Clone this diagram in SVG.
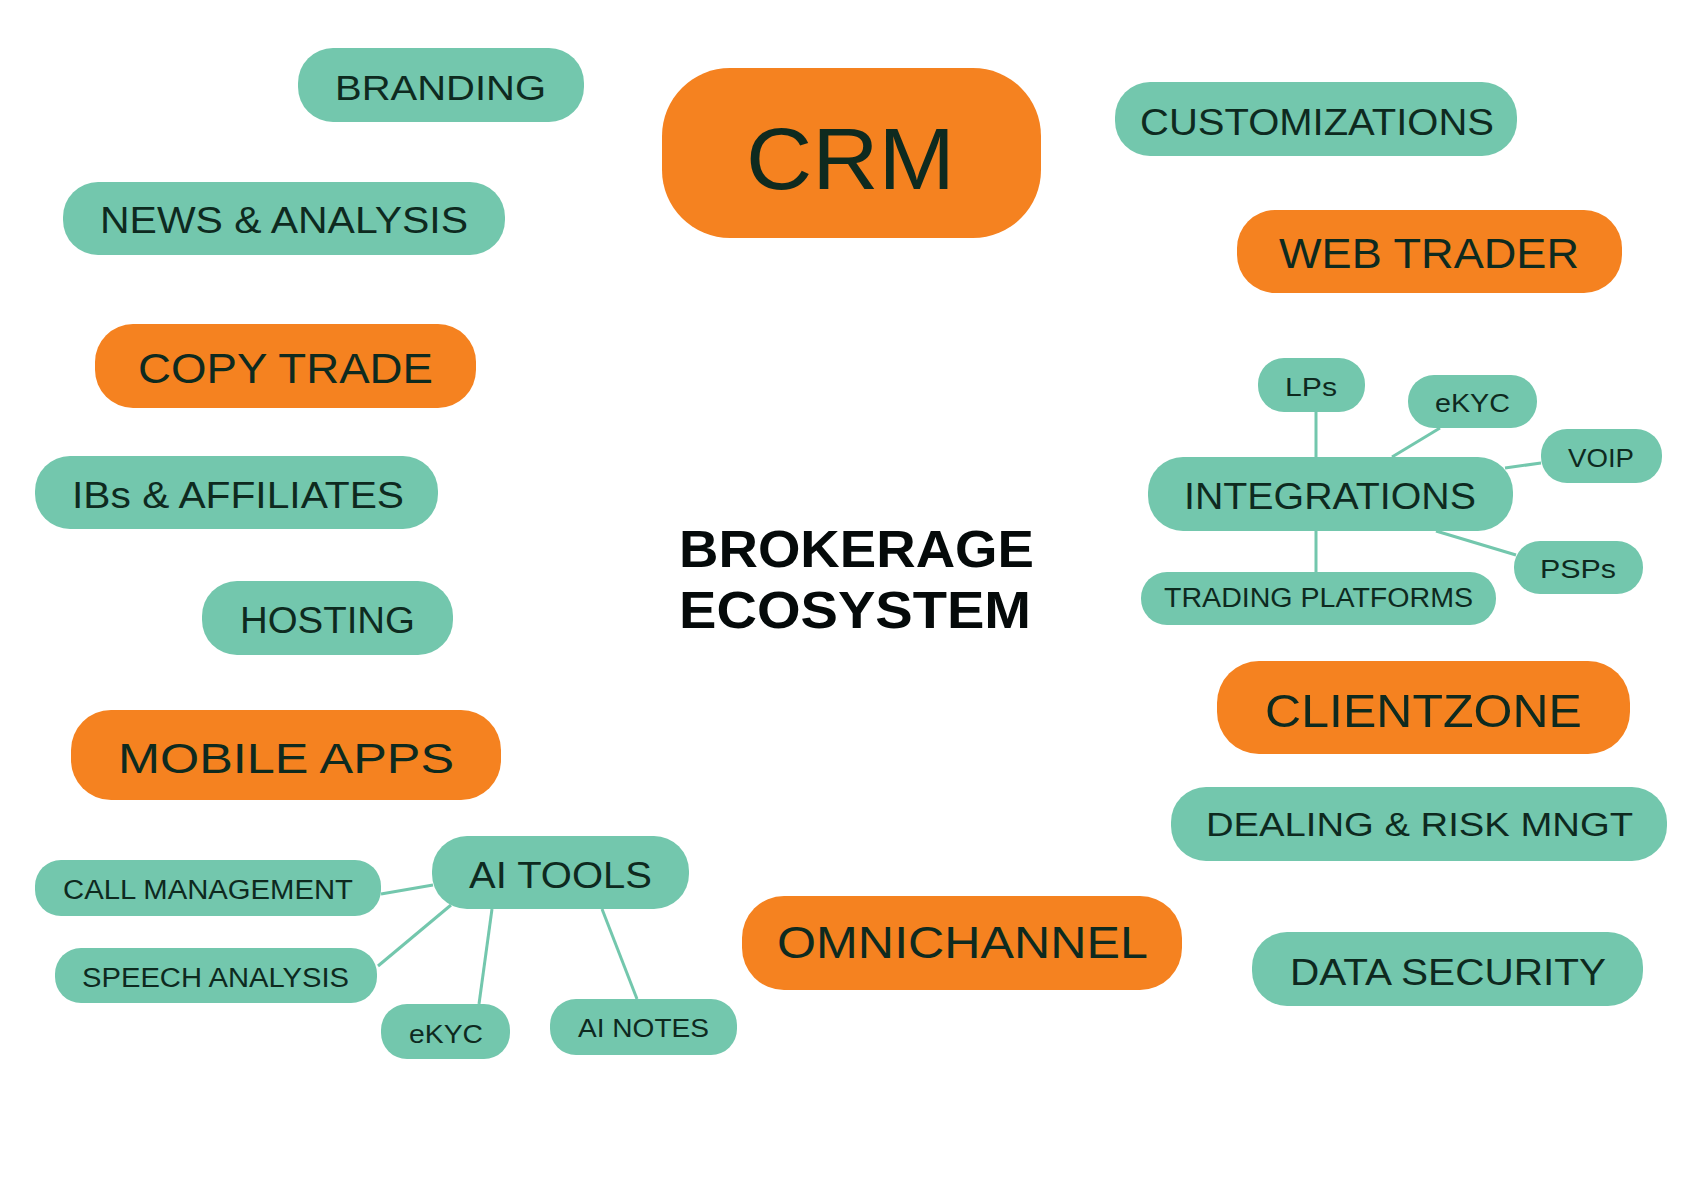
<svg xmlns="http://www.w3.org/2000/svg" width="1682" height="1180" viewBox="0 0 1682 1180">
<style>
.t{fill:#73C7AD}
.o{fill:#F58220}
text{font-family:"Liberation Sans",Arial,sans-serif;fill:#0E2A1F}
.c{stroke:#73C7AD;stroke-width:3;fill:none}
.h{font-weight:bold;fill:#050A0A}
</style>
<rect width="1682" height="1180" fill="#ffffff"/>
<g id="connectors">
<line class="c" x1="1316" y1="412" x2="1316" y2="457"/>
<line class="c" x1="1440" y1="428" x2="1392" y2="457"/>
<line class="c" x1="1541" y1="463" x2="1505" y2="468"/>
<line class="c" x1="1516" y1="555" x2="1436" y2="531"/>
<line class="c" x1="1316" y1="531" x2="1316" y2="572"/>
<line class="c" x1="381" y1="894" x2="433" y2="885"/>
<line class="c" x1="378" y1="966" x2="451" y2="905"/>
<line class="c" x1="479" y1="1004" x2="492" y2="909"/>
<line class="c" x1="637" y1="999" x2="602" y2="909"/>
</g>
<g id="center"><text class="h" x="679" y="567" font-size="52" textLength="355" lengthAdjust="spacingAndGlyphs">BROKERAGE</text><text class="h" x="679" y="628" font-size="52" textLength="352" lengthAdjust="spacingAndGlyphs">ECOSYSTEM</text></g>
<g id="crm"><rect class="o" x="662" y="68" width="379" height="170" rx="68"/><text x="746" y="189" font-size="87" textLength="209" lengthAdjust="spacingAndGlyphs">CRM</text></g>
<g id="branding"><rect class="t" x="298" y="48" width="286" height="74" rx="35"/><text x="335" y="100" font-size="35" textLength="211" lengthAdjust="spacingAndGlyphs">BRANDING</text></g>
<g id="news"><rect class="t" x="63" y="182" width="442" height="73" rx="35"/><text x="100" y="233" font-size="36" textLength="368" lengthAdjust="spacingAndGlyphs">NEWS &amp; ANALYSIS</text></g>
<g id="copytrade"><rect class="o" x="95" y="324" width="381" height="84" rx="38"/><text x="138" y="383" font-size="42" textLength="295" lengthAdjust="spacingAndGlyphs">COPY TRADE</text></g>
<g id="ibs"><rect class="t" x="35" y="456" width="403" height="73" rx="35"/><text x="72" y="508" font-size="36" textLength="332" lengthAdjust="spacingAndGlyphs">IBs &amp; AFFILIATES</text></g>
<g id="hosting"><rect class="t" x="202" y="581" width="251" height="74" rx="35"/><text x="240" y="633" font-size="36" textLength="175" lengthAdjust="spacingAndGlyphs">HOSTING</text></g>
<g id="mobile"><rect class="o" x="71" y="710" width="430" height="90" rx="40"/><text x="118" y="773" font-size="43" textLength="336" lengthAdjust="spacingAndGlyphs">MOBILE APPS</text></g>
<g id="customizations"><rect class="t" x="1115" y="82" width="402" height="74" rx="35"/><text x="1140" y="135" font-size="37" textLength="354" lengthAdjust="spacingAndGlyphs">CUSTOMIZATIONS</text></g>
<g id="webtrader"><rect class="o" x="1237" y="210" width="385" height="83" rx="38"/><text x="1279" y="268" font-size="42" textLength="300" lengthAdjust="spacingAndGlyphs">WEB TRADER</text></g>
<g id="lps"><rect class="t" x="1258" y="358" width="107" height="54" rx="26"/><text x="1285" y="396" font-size="26" textLength="52" lengthAdjust="spacingAndGlyphs">LPs</text></g>
<g id="ekyc1"><rect class="t" x="1408" y="375" width="129" height="53" rx="26"/><text x="1435" y="412" font-size="26" textLength="75" lengthAdjust="spacingAndGlyphs">eKYC</text></g>
<g id="voip"><rect class="t" x="1541" y="429" width="121" height="54" rx="26"/><text x="1568" y="467" font-size="26" textLength="66" lengthAdjust="spacingAndGlyphs">VOIP</text></g>
<g id="integrations"><rect class="t" x="1148" y="457" width="365" height="74" rx="35"/><text x="1184" y="509" font-size="36" textLength="292" lengthAdjust="spacingAndGlyphs">INTEGRATIONS</text></g>
<g id="psps"><rect class="t" x="1514" y="541" width="129" height="53" rx="26"/><text x="1540" y="578" font-size="26" textLength="76" lengthAdjust="spacingAndGlyphs">PSPs</text></g>
<g id="trading"><rect class="t" x="1141" y="572" width="355" height="53" rx="26"/><text x="1164" y="607" font-size="27" textLength="309" lengthAdjust="spacingAndGlyphs">TRADING PLATFORMS</text></g>
<g id="clientzone"><rect class="o" x="1217" y="661" width="413" height="93" rx="42"/><text x="1265" y="727" font-size="47" textLength="317" lengthAdjust="spacingAndGlyphs">CLIENTZONE</text></g>
<g id="dealing"><rect class="t" x="1171" y="787" width="496" height="74" rx="35"/><text x="1206" y="836" font-size="34" textLength="427" lengthAdjust="spacingAndGlyphs">DEALING &amp; RISK MNGT</text></g>
<g id="omnichannel"><rect class="o" x="742" y="896" width="440" height="94" rx="42"/><text x="777" y="958" font-size="45" textLength="371" lengthAdjust="spacingAndGlyphs">OMNICHANNEL</text></g>
<g id="datasecurity"><rect class="t" x="1252" y="932" width="391" height="74" rx="35"/><text x="1290" y="985" font-size="37" textLength="316" lengthAdjust="spacingAndGlyphs">DATA SECURITY</text></g>
<g id="aitools"><rect class="t" x="432" y="836" width="257" height="73" rx="35"/><text x="469" y="888" font-size="36" textLength="183" lengthAdjust="spacingAndGlyphs">AI TOOLS</text></g>
<g id="callmgmt"><rect class="t" x="35" y="860" width="346" height="56" rx="26"/><text x="63" y="899" font-size="27" textLength="290" lengthAdjust="spacingAndGlyphs">CALL MANAGEMENT</text></g>
<g id="speech"><rect class="t" x="55" y="948" width="322" height="55" rx="26"/><text x="82" y="987" font-size="27" textLength="267" lengthAdjust="spacingAndGlyphs">SPEECH ANALYSIS</text></g>
<g id="ekyc2"><rect class="t" x="381" y="1004" width="129" height="55" rx="26"/><text x="409" y="1043" font-size="26" textLength="74" lengthAdjust="spacingAndGlyphs">eKYC</text></g>
<g id="ainotes"><rect class="t" x="550" y="999" width="187" height="56" rx="26"/><text x="578" y="1037" font-size="26" textLength="131" lengthAdjust="spacingAndGlyphs">AI NOTES</text></g>
</svg>
